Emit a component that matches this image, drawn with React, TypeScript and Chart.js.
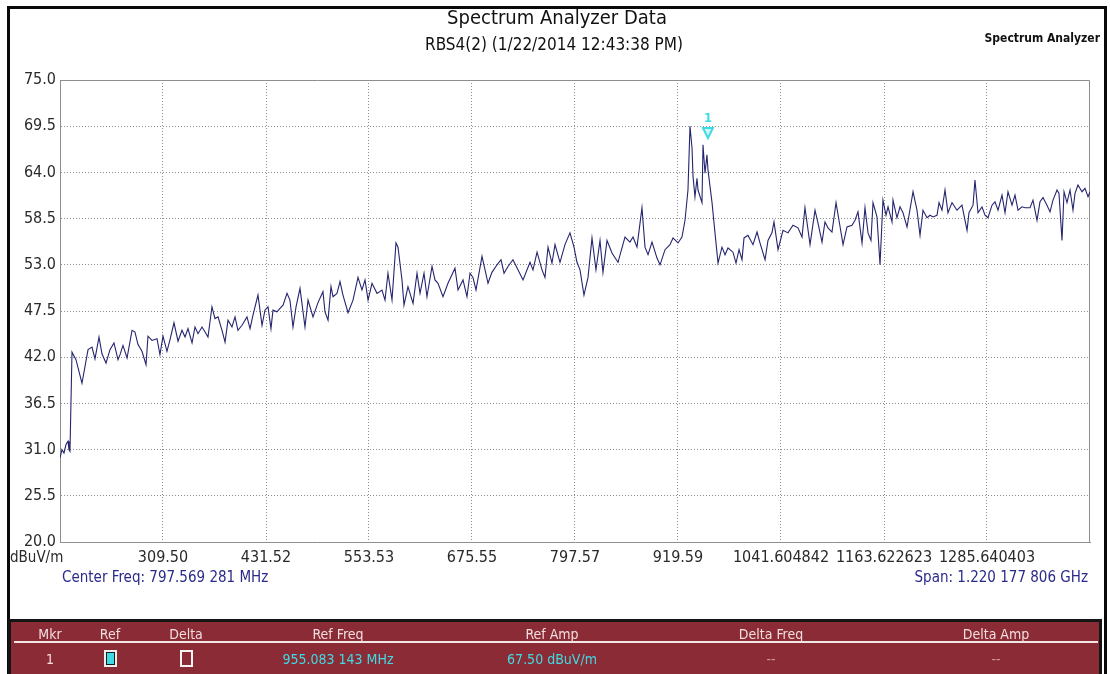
import React, { useEffect, useRef } from "react";
import { Chart, registerables } from "chart.js";

Chart.register(...registerables);

const FONT =
  "'Liberation Sans Narrow', 'Arial Narrow', 'DejaVu Sans Condensed', 'Liberation Sans', Arial, sans-serif";

// ---- data ----
const FREQ_MHZ = [
  187.5, 189.8, 192.2, 194.6, 197.0, 198.1, 199.3, 200.5, 201.7, 206.4,
  213.5, 220.7, 225.4, 228.9, 233.7, 237.2, 242.0, 246.7, 251.4, 256.2,
  258.6, 262.1, 266.9, 272.8, 276.3, 279.9, 284.6, 289.4, 291.7, 296.5,
  302.4, 305.9, 309.5, 314.2, 317.8, 322.5, 327.3, 332.0, 335.6, 339.1,
  343.9, 347.4, 351.0, 355.7, 359.3, 362.8, 367.5, 371.1, 374.7, 379.4,
  383.0, 386.5, 391.2, 394.8, 398.3, 403.1, 409.0, 412.6, 416.1, 422.0,
  426.8, 430.3, 433.9, 437.4, 439.8, 444.5, 448.1, 451.7, 456.4, 459.9,
  463.5, 467.1,
  471.8, 477.7, 481.3, 487.2, 493.1, 499.0, 501.4, 505.0, 508.5, 510.9,
  515.6, 519.2, 522.7, 528.7, 534.6, 540.5, 545.2, 548.8, 552.4, 557.1,
  563.0, 568.9, 572.5, 576.0, 580.8, 585.5, 587.9, 592.6, 595.0, 599.7,
  605.7, 610.4, 614.0, 618.7, 622.2, 628.2, 631.7, 635.3, 641.2, 647.1,
  655.4, 659.0, 664.9, 669.6, 673.2, 676.7, 680.3, 687.4, 691.0, 694.5,
  699.2, 705.2, 709.9, 713.5, 718.2, 724.1, 730.0, 736.0, 744.3, 747.8,
  752.6, 758.5, 762.0, 765.6, 770.3, 773.9, 779.8, 785.7, 791.6, 796.4,
  799.9, 803.5, 808.2, 813.0, 817.7, 822.4,
  827.2, 830.7, 835.5, 841.4, 848.5, 856.8, 862.7, 866.3, 871.0, 876.9,
  880.5, 884.1, 888.8, 894.7, 898.3, 904.2, 910.1, 913.7, 919.6, 924.3,
  927.9, 931.4, 933.8, 936.2, 937.4, 939.7, 942.1, 943.3, 948.0, 949.2,
  951.6, 953.9, 955.1, 959.9, 963.4, 967.0,
  971.7, 975.3, 978.8, 984.7, 988.3, 991.9, 995.4, 997.8, 1002.5, 1008.4,
  1013.2, 1016.7, 1022.7, 1026.2, 1030.9, 1033.3, 1038.1, 1044.0, 1049.9, 1055.8,
  1061.7, 1066.5, 1070.0, 1076.0, 1081.9, 1085.4, 1090.2, 1093.7, 1097.3, 1102.0,
  1106.8, 1110.3, 1115.1, 1119.8, 1125.7, 1129.3, 1132.8, 1137.6, 1141.1, 1144.7,
  1148.2, 1150.6, 1155.3, 1158.9, 1162.4, 1166.0, 1168.4, 1173.1, 1174.3, 1179.0,
  1182.6, 1186.1, 1190.9, 1198.0, 1202.7, 1206.3, 1209.8, 1214.6, 1218.1, 1221.7,
  1226.4, 1228.8, 1232.3, 1235.9, 1239.4, 1244.2, 1250.1, 1256.0, 1259.6, 1262.0,
  1264.3, 1269.1, 1271.4, 1275.0, 1279.7, 1283.3, 1286.8, 1291.6, 1295.1, 1298.7,
  1303.4, 1307.0, 1310.5, 1315.3, 1318.8, 1322.4, 1327.1, 1330.7, 1336.6, 1340.1,
  1344.9, 1348.4, 1352.0, 1356.7, 1360.3, 1363.8, 1368.6, 1370.9, 1374.5, 1376.9,
  1380.4, 1384.0, 1387.5, 1389.9, 1393.4, 1398.2, 1401.7, 1405.3, 1407.7,
];

const LEVEL_DBUV = [
  30.0, 31.0, 30.6, 31.6, 32.0, 31.0, 30.8, 36.7, 42.6, 41.7,
  38.9, 42.9, 43.2, 41.8, 44.4, 42.4, 41.3, 42.9, 43.7, 41.7,
  42.3, 43.4, 41.9, 45.2, 45.0, 43.5, 42.7, 41.1, 44.5, 44.0,
  44.2, 42.3, 44.5, 42.7, 44.1, 46.1, 43.9, 45.2, 44.4, 45.4,
  43.7, 45.6, 44.8, 45.6, 45.0, 44.4, 48.0, 46.6, 46.8, 45.2,
  43.8, 46.4, 45.6, 46.8, 45.2, 45.8, 46.8, 45.4, 47.0, 49.4,
  45.8, 47.6, 48.0, 45.4, 47.6, 47.4, 47.8, 48.2, 49.6, 48.8,
  45.6, 48.0,
  50.2, 45.6, 48.8, 46.8, 48.5, 49.8, 47.4, 46.4, 50.4, 49.2,
  49.6, 51.0, 49.4, 47.3, 48.8, 51.5, 50.0, 51.2, 48.8, 50.8,
  49.6, 50.0, 48.8, 52.0, 48.8, 55.6, 55.1, 51.2, 48.2, 50.4,
  48.4, 52.0, 49.6, 52.0, 49.2, 52.8, 51.2, 50.8, 49.2, 50.8,
  52.6, 50.0, 51.2, 49.2, 52.0, 51.5, 50.0, 54.0, 52.4, 50.8,
  52.1, 53.0, 53.6, 52.0, 52.8, 53.6, 52.4, 51.2, 53.3, 52.4,
  54.5, 52.4, 51.5, 55.1, 53.2, 55.4, 53.3, 55.4, 56.8, 55.1,
  53.3, 52.4, 49.4, 51.5, 56.2, 52.4,
  55.9, 52.1, 55.9, 54.4, 53.3, 56.3, 55.7, 56.3, 55.1, 59.8,
  55.1, 54.2, 55.7, 53.8, 53.0, 54.8, 55.4, 56.2, 55.6, 56.3,
  58.3, 61.9, 69.5, 66.9, 63.5, 61.1, 63.3, 61.9, 60.4, 67.3,
  63.9, 66.1, 64.3, 60.4, 56.8, 53.2,
  55.1, 54.2, 55.0, 54.5, 53.2, 54.8, 53.6, 56.2, 56.5, 55.4,
  56.9, 55.6, 53.6, 55.9, 56.8, 58.1, 54.8, 57.1, 56.8, 57.7,
  57.4, 56.3, 59.8, 55.4, 59.5, 58.0, 55.7, 58.1, 57.4, 56.9,
  60.4, 58.3, 55.4, 57.5, 57.7, 58.3, 59.3, 55.6, 59.8, 56.8,
  55.9, 60.4, 58.7, 53.0, 60.7, 58.9, 59.9, 58.1, 60.7, 58.6,
  59.9, 59.2, 57.5, 61.7, 59.5, 56.5, 59.5, 58.6, 58.9, 58.7,
  58.9, 60.4, 59.5, 61.9, 59.2, 60.4, 59.5, 60.1, 58.3, 57.1,
  59.2, 60.1, 63.1, 59.2, 59.9, 58.9, 58.6, 60.1, 60.5, 59.5,
  61.3, 59.2, 61.7, 60.1, 61.3, 59.5, 59.9, 59.8, 59.8, 60.7,
  58.3, 60.5, 61.0, 60.1, 59.3, 60.7, 61.9, 61.5, 55.9, 61.7,
  60.4, 61.9, 59.5, 61.5, 62.5, 61.7, 62.1, 61.1, 61.7,
];

const X_MIN = 187.480378;
const X_MAX = 1407.658184;
const X_TICK_VALUES = [309.498, 431.516, 553.533, 675.551, 797.569, 919.587, 1041.604842, 1163.622623, 1285.640403];
const X_TICK_LABELS = ["309.50", "431.52", "553.53", "675.55", "797.57", "919.59", "1041.604842", "1163.622623", "1285.640403"];
const Y_TICKS = [20, 25.5, 31, 36.5, 42, 47.5, 53, 58.5, 64, 69.5, 75];

const MARKER_FREQ = 955.083143;
const MARKER_AMP = 67.5;
const MARKER_LABEL = "1";

const TITLE = "Spectrum Analyzer Data";
const SUBTITLE = "RBS4(2) (1/22/2014 12:43:38 PM)";
const CORNER = "Spectrum Analyzer";
const Y_UNIT = "dBuV/m";
const CENTER_TEXT = "Center Freq: 797.569 281 MHz";
const SPAN_TEXT = "Span: 1.220 177 806 GHz";

const TABLE_HEADERS = ["Mkr", "Ref", "Delta", "Ref Freq", "Ref Amp", "Delta Freq", "Delta Amp"];
const TABLE_ROW = ["1", "", "", "955.083 143 MHz", "67.50 dBuV/m", "--", "--"];
const TABLE_COL_X = [50, 110, 186, 338, 552, 771, 996];

const GRID = "#8e8e8e";
const TRACE = "#25256f";
const CYAN = "#3fdbe4";
const LABEL = "#2a2a2a";

const framePlugin = {
  id: "frame",
  beforeDatasetsDraw(c: any) {
    const { ctx, chartArea } = c;
    const { left, top, right, bottom } = chartArea;
    ctx.save();
    ctx.strokeStyle = GRID;
    ctx.lineWidth = 1;
    ctx.setLineDash([]);
    ctx.beginPath();
    ctx.moveTo(Math.round(left), Math.round(top) + 0.5);
    ctx.lineTo(Math.round(right) - 0.5, Math.round(top) + 0.5);
    ctx.lineTo(Math.round(right) - 0.5, Math.round(bottom));
    ctx.stroke();
    ctx.restore();
  },
};

const markerPlugin = {
  id: "marker",
  afterDatasetsDraw(c: any) {
    const { ctx, scales } = c;
    const x = scales.x.getPixelForValue(MARKER_FREQ);
    const y = scales.y.getPixelForValue(MARKER_AMP);
    ctx.save();
    ctx.strokeStyle = CYAN;
    ctx.fillStyle = "rgba(63,219,228,0.25)";
    ctx.lineWidth = 2;
    ctx.beginPath();
    ctx.moveTo(x - 5, y - 15);
    ctx.lineTo(x + 5, y - 15);
    ctx.lineTo(x, y - 5);
    ctx.closePath();
    ctx.fill();
    ctx.stroke();
    ctx.fillStyle = CYAN;
    ctx.font = `bold 13px ${FONT}`;
    ctx.textAlign = "center";
    ctx.textBaseline = "middle";
    ctx.fillText(MARKER_LABEL, x, y - 24);
    ctx.restore();
  },
};

function abs(style: React.CSSProperties): React.CSSProperties {
  return { position: "absolute", whiteSpace: "nowrap", lineHeight: 1, ...style };
}

export default function App() {
  const ref = useRef<HTMLCanvasElement>(null);

  useEffect(() => {
    const points = FREQ_MHZ.map((f, i) => ({ x: f, y: LEVEL_DBUV[i] }));
    const chart = new Chart(ref.current as HTMLCanvasElement, {
      type: "line",
      data: {
        datasets: [
          {
            data: points,
            borderColor: TRACE,
            borderWidth: 1.1,
            pointRadius: 0,
            tension: 0,
            fill: false,
          },
        ],
      },
      options: {
        responsive: false,
        animation: false,
        devicePixelRatio: 1,
        layout: { padding: { left: 8, right: 20, top: 80, bottom: 102 } },
        plugins: {
          legend: { display: false },
          tooltip: { enabled: false },
          title: { display: false },
        },
        scales: {
          x: {
            type: "linear",
            min: X_MIN,
            max: X_MAX,
            afterBuildTicks: (s: any) => {
              s.ticks = X_TICK_VALUES.map((v) => ({ value: v }));
            },
            afterFit: (s: any) => {
              s.height = 30;
            },
            ticks: {
              autoSkip: false,
              maxRotation: 0,
              minRotation: 0,
              padding: 6,
              color: LABEL,
              font: { family: FONT, size: 16 },
              callback: (_v: any, i: number) => X_TICK_LABELS[i],
            },
            grid: { color: GRID, lineWidth: 1, drawTicks: false },
            border: { display: true, color: GRID, width: 1, dash: [1, 2] },
          },
          y: {
            type: "linear",
            min: 20,
            max: 75,
            afterBuildTicks: (s: any) => {
              s.ticks = Y_TICKS.map((v) => ({ value: v }));
            },
            afterFit: (s: any) => {
              s.width = 52;
            },
            ticks: {
              autoSkip: false,
              padding: 4,
              color: LABEL,
              font: { family: FONT, size: 16 },
              callback: (v: any) => Number(v).toFixed(1),
            },
            grid: { color: GRID, lineWidth: 1, drawTicks: false },
            border: { display: true, color: GRID, width: 1, dash: [1, 2] },
          },
        },
      },
      plugins: [framePlugin, markerPlugin],
    } as any);
    return () => chart.destroy();
  }, []);

  return (
    <div
      style={{
        position: "fixed",
        left: 0,
        top: 0,
        width: 1110,
        height: 674,
        background: "#fff",
        overflow: "hidden",
        fontFamily: FONT,
      }}
    >
      <canvas
        ref={ref}
        width={1110}
        height={674}
        style={{ position: "absolute", left: 0, top: 0, width: 1110, height: 674 }}
      />
      {/* outer frame */}
      <div
        style={{
          position: "absolute",
          left: 7,
          top: 6,
          width: 1094,
          height: 700,
          border: "3px solid #0a0a0a",
          pointerEvents: "none",
        }}
      />
      <div style={abs({ left: 557, top: 7, transform: "translateX(-50%)", fontSize: 20, color: "#111" })}>{TITLE}</div>
      <div style={abs({ left: 554, top: 36, transform: "translateX(-50%)", fontSize: 17, color: "#111" })}>{SUBTITLE}</div>
      <div style={abs({ right: 10, top: 32, fontSize: 12, fontWeight: "bold", color: "#111" })}>{CORNER}</div>
      <div style={abs({ left: 10, top: 550, fontSize: 15, color: LABEL })}>{Y_UNIT}</div>
      <div style={abs({ left: 62, top: 570, fontSize: 15, color: "#2a2a8a" })}>{CENTER_TEXT}</div>
      <div style={abs({ right: 22, top: 570, fontSize: 15, color: "#2a2a8a" })}>{SPAN_TEXT}</div>

      {/* marker table */}
      <div
        style={{
          position: "absolute",
          left: 8,
          top: 619,
          width: 1094,
          height: 70,
          background: "#8b2b35",
          border: "3px solid #151515",
          boxSizing: "border-box",
        }}
      />
      <div style={{ position: "absolute", left: 14, top: 641, width: 1084, height: 2, background: "#f3e6e6" }} />
      {TABLE_HEADERS.map((h, i) => (
        <div
          key={"h" + i}
          style={abs({ left: TABLE_COL_X[i], top: 627, transform: "translateX(-50%)", fontSize: 14, color: "#f2dede" })}
        >
          {h}
        </div>
      ))}
      {TABLE_ROW.map((v, i) => {
        if (i === 1) {
          return (
            <div
              key={"r" + i}
              style={{
                position: "absolute",
                left: TABLE_COL_X[i] - 6,
                top: 650,
                width: 9,
                height: 13,
                background: CYAN,
                border: "2px solid #eeeeee",
                boxShadow: "inset 0 0 0 1px #1a1a1a",
              }}
            />
          );
        }
        if (i === 2) {
          return (
            <div
              key={"r" + i}
              style={{
                position: "absolute",
                left: TABLE_COL_X[i] - 6,
                top: 650,
                width: 9,
                height: 13,
                background: "#8b2b35",
                border: "2px solid #f4f4f4",
              }}
            />
          );
        }
        const color = i === 0 ? "#f2dede" : i >= 5 ? "#c99a9a" : CYAN;
        return (
          <div
            key={"r" + i}
            style={abs({ left: TABLE_COL_X[i], top: 652, transform: "translateX(-50%)", fontSize: 14, color })}
          >
            {v}
          </div>
        );
      })}
    </div>
  );
}
